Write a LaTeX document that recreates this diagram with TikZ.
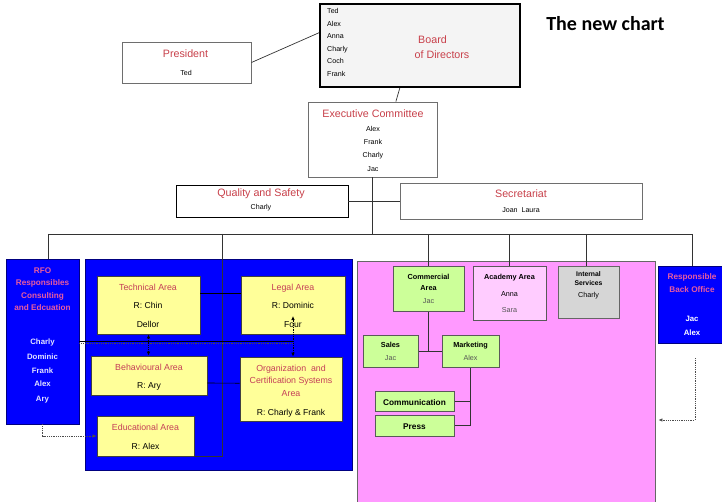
\documentclass[tikz,border=0pt]{standalone}
\usepackage{fontspec}
\setmainfont{Liberation Sans}
\newfontfamily\titlefont{Carlito}
\usetikzlibrary{arrows.meta,calc}

\definecolor{hdred}{RGB}{200,64,74}
\definecolor{arred}{RGB}{196,62,88}
\definecolor{rfopink}{RGB}{232,92,160}
\definecolor{paleblue}{RGB}{228,228,255}
\definecolor{deptblue}{RGB}{0,0,255}
\definecolor{areayellow}{RGB}{255,255,153}
\definecolor{mktgreen}{RGB}{204,255,153}
\definecolor{salespink}{RGB}{255,153,255}
\definecolor{acadpink}{RGB}{255,204,255}
\definecolor{servgray}{RGB}{214,214,214}
\definecolor{boardfill}{RGB}{244,244,244}
\definecolor{edgegray}{RGB}{110,110,110}
\definecolor{namegray}{RGB}{85,85,85}

\begin{document}
\begin{tikzpicture}[x=1pt,y=-1pt,
  box/.style={draw=edgegray,line width=0.9pt,inner sep=0pt,fill=white},
  sz/.style 2 args={minimum width=#1pt,minimum height=#2pt},
  conn/.style={draw=black!80,line width=0.7pt},
  dotconn/.style={draw=black!70,line width=0.8pt,densely dotted},
  tip/.style={-{Latex[length=4pt,width=3.6pt]}},
  tips/.style={{Latex[length=4pt,width=3.6pt]}-{Latex[length=4pt,width=3.6pt]}},
  lbl/.style={inner sep=0pt,text depth=0pt},
  topH/.style={lbl,font=\fontsize{10.7}{12}\selectfont,text=hdred,text height=7.7pt},
  topN/.style={lbl,font=\fontsize{7.1}{8}\selectfont,text=black,text height=5.1pt},
  areaH/.style={lbl,font=\fontsize{8.8}{10}\selectfont,text=arred,text height=6.3pt},
  areaN/.style={lbl,font=\fontsize{8.6}{10}\selectfont,text=black,text height=6.2pt},
  rfoH/.style={lbl,font=\bfseries\fontsize{8.2}{10}\selectfont,text=rfopink,text height=5.9pt},
  rfoN/.style={lbl,font=\bfseries\fontsize{7.8}{10}\selectfont,text=paleblue,text height=5.6pt},
  grH/.style={lbl,font=\bfseries\fontsize{7.3}{9}\selectfont,text=black,text height=5.3pt},
  grN/.style={lbl,font=\fontsize{7.2}{9}\selectfont,text=namegray,text height=5.2pt},
  boxH/.style={lbl,font=\bfseries\fontsize{8.3}{10}\selectfont,text=black,text height=6pt}
]
\useasboundingbox[fill=white] (0,0) rectangle (722,502);

% ---------- title ----------
\node[lbl,font=\titlefont\bfseries\fontsize{20}{24}\selectfont,text height=13pt] (title) at (605.5,24) {The new chart};

% ---------- governance ----------
\node[box,sz={200}{83},draw=black,line width=2pt,fill=boardfill] (board) at (420,45.5) {};
\node[topN,anchor=west] (bn1) at (327,11) {Ted};
\node[topN,anchor=west] (bn2) at (327,23.5) {Alex};
\node[topN,anchor=west] (bn3) at (327,36) {Anna};
\node[topN,anchor=west] (bn4) at (327,49) {Charly};
\node[topN,anchor=west] (bn5) at (327,61) {Coch};
\node[topN,anchor=west] (bn6) at (327,74) {Frank};
\node[topH] (bt1) at (432.5,40) {Board};
\node[topH] (bt2) at (442,55) {of Directors};

\node[box,sz={129}{41}] (pres) at (186.5,62.5) {};
\node[topH] (pt) at (185.5,54) {President};
\node[topN] (pn) at (186,73) {Ted};

\node[box,sz={129}{75}] (exec) at (372.5,139.5) {};
\node[topH] (et) at (373,114) {Executive Committee};
\node[topN] (en1) at (373,129) {Alex};
\node[topN] (en2) at (373,142) {Frank};
\node[topN] (en3) at (373,155) {Charly};
\node[topN] (en4) at (373,169) {Jac};

\node[box,sz={172}{32},draw=black] (qs) at (262,201) {};
\node[topH] (qt) at (261,193) {Quality and Safety};
\node[topN] (qn) at (261,207) {Charly};

\node[box,sz={242}{36}] (sec) at (521,201) {};
\node[topH] (st) at (521,194) {Secretariat};
\node[topN] (sn) at (521,210) {Joan~~Laura};

% ---------- departments (large panels) ----------
\node[box,sz={267}{211},fill=deptblue,draw=blue!50!black] (blue) at (218.5,364.5) {};
\node[box,sz={298}{244},fill=salespink,draw=black!60] (pink) at (506,383) {};

\node[box,sz={73}{165},fill=deptblue,draw=blue!50!black] (rfo) at (42.5,341.5) {};
\node[rfoH] (rt1) at (42.5,271) {RFO};
\node[rfoH] (rt2) at (42.5,283) {Responsibles};
\node[rfoH] (rt3) at (42.5,295.5) {Consulting};
\node[rfoH] (rt4) at (42.5,308) {and Edcuation};
\node[rfoN] (rn1) at (42.5,342) {Charly};
\node[rfoN] (rn2) at (42.5,357) {Dominic};
\node[rfoN] (rn3) at (42.5,371) {Frank};
\node[rfoN] (rn4) at (42.5,384) {Alex};
\node[rfoN] (rn5) at (42.5,399) {Ary};

\node[box,sz={68}{77},fill=deptblue,draw=blue!50!black] (bo) at (692,304.5) {};
\node[rfoH] (bot1) at (692,277) {Responsible};
\node[rfoH] (bot2) at (692,290) {Back Office};
\node[rfoN,text=white] (bon1) at (692,319) {Jac};
\node[rfoN,text=white] (bon2) at (692,333) {Alex};

% ---------- areas inside the blue panel ----------
\tikzset{ybox/.style={box,fill=areayellow,draw=black!75,line width=0.9pt}}
\node[ybox,sz={103}{58}] (tech) at (148.5,305) {};
\node[areaH] (tt) at (148,287) {Technical Area};
\node[areaN] (tn1) at (148,305) {R: Chin};
\node[areaN] (tn2) at (148,324) {Dellor};

\node[ybox,sz={104}{58}] (legal) at (293,305) {};
\node[areaH] (lt) at (293,287) {Legal Area};
\node[areaN] (ln1) at (293,305) {R: Dominic};
\node[areaN] (ln2) at (293,324) {Four};

\node[ybox,sz={116}{39}] (behav) at (149,375.5) {};
\node[areaH] (bht) at (149,367) {Behavioural Area};
\node[areaN] (bhn) at (149,385) {R: Ary};

\node[ybox,sz={102}{64}] (org) at (291,389) {};
\node[areaH] (ot1) at (291,368) {Organization~ and};
\node[areaH] (ot2) at (291,380.5) {Certification Systems};
\node[areaH] (ot3) at (291,393) {Area};
\node[areaN] (on) at (291,412) {R: Charly \& Frank};

\node[ybox,sz={97}{40}] (edu) at (145.5,436) {};
\node[areaH] (edt) at (145.5,427) {Educational Area};
\node[areaN] (edn) at (145.5,446) {R: Alex};

% ---------- areas inside the pink panel ----------
\tikzset{gbox/.style={box,fill=mktgreen,draw=black!65,line width=1pt}}
\node[gbox,sz={71}{44}] (comm) at (428.5,289) {};
\node[grH] (ct1) at (428.5,277) {Commercial};
\node[grH] (ct2) at (428.5,288) {Area};
\node[grN] (cn) at (428.5,301) {Jac};

\node[box,sz={73}{53},fill=acadpink,draw=black!65,line width=1pt] (acad) at (509.5,293.5) {};
\node[grH] (at) at (509.5,277) {Academy Area};
\node[grN,text=black] (an1) at (509.5,293.5) {Anna};
\node[grN] (an2) at (509.5,310) {Sara};

\node[box,sz={61}{51},fill=servgray,draw=black!60,line width=1pt] (intern) at (588.5,292.5) {};
\node[grH,font=\bfseries\fontsize{6.8}{8}\selectfont] (it1) at (588.5,274) {Internal};
\node[grH,font=\bfseries\fontsize{6.8}{8}\selectfont] (it2) at (588.5,282.5) {Services};
\node[grN,text=black] (in) at (588.5,294.5) {Charly};

\node[gbox,sz={55}{32}] (sales) at (390.5,351) {};
\node[grH] (sat) at (390.5,345) {Sales};
\node[grN] (san) at (390.5,358) {Jac};

\node[gbox,sz={57}{32}] (mkt) at (470.5,351) {};
\node[grH] (mt) at (470.5,345) {Marketing};
\node[grN] (mn) at (470.5,358) {Alex};

\node[gbox,sz={79}{20}] (commu) at (414.5,401) {};
\node[boxH] (cut) at (414.5,402) {Communication};
\node[gbox,sz={79}{21}] (press) at (414.5,425.5) {};
\node[boxH] (prt) at (414.5,426) {Press};

% ---------- reporting lines ----------
\draw[conn] (pres.east) -- ($(board.north west)!0.35!(board.south west)$);
\draw[conn] ($(board.south west)!0.4!(board.south east)$) -- ($(exec.north west)!0.68!(exec.north east)$);
\coordinate (mid) at (372.5,201);
\coordinate (hub) at (372.5,234);
\draw[conn,line width=1.4pt] (exec.south) -- (mid);
\draw[conn] (mid) -- (hub);
\draw[conn] (qs.east) -- (sec.west);

\coordinate (barL) at (48,234);
\coordinate (barR) at (692,234);
\coordinate (trunk) at (222,234);
\coordinate (tapI) at (586,234);
\draw[conn] (barL) -- (barR);
\draw[conn] (barL) -- (barL |- rfo.north);
\draw[conn] (trunk) -- (trunk |- edu.south) -- (edu.south east);
\draw[conn] (comm.north |- barL) -- (comm.north);
\draw[conn] (acad.north |- barL) -- (acad.north);
\draw[conn] (tapI) -- (tapI |- intern.north);
\draw[conn] (barR) -- (bo.north);

% links inside the blue panel
\draw[conn,draw=black] ($(tech.north east)!0.31!(tech.south east)$) -- ($(legal.north west)!0.31!(legal.south west)$);
\draw[conn,draw=black] ($(behav.north east)!0.69!(behav.south east)$) -- ($(org.north west)!0.41!(org.south west)$);

\coordinate (bus) at (293,341);
\coordinate (bus2) at (293,343);
\draw[conn,draw=black,line width=0.5pt] (rfo.east |- bus) -- (bus);
\draw[dotconn,line width=0.6pt] (rfo.east |- bus2) -- (bus2);
\draw[dotconn,draw=black,tips] (tech.south) -- (behav.north -| tech.south);
\coordinate (legaltip) at (293,316);
\draw[dotconn,draw=black,tips] (legaltip) -- (legaltip |- org.north);

\draw[dotconn,tip] (rfo.south) |- (edu.west);

% links inside the pink panel
\coordinate (cfork) at (428.5,351);
\draw[conn] (comm.south) -- (cfork);
\draw[conn] (sales.east) -- (mkt.west);
\draw[conn] (mkt.south) |- (press.east);
\draw[conn] (commu.east) -- (commu.east -| mkt.south);

\coordinate (bo1) at (695,358);
\coordinate (bo2) at (695,420);
\draw[dotconn,tip] (bo1) -- (bo2) -- ($(bo2 -| pink.east)+(3,0)$);
\end{tikzpicture}
\end{document}
